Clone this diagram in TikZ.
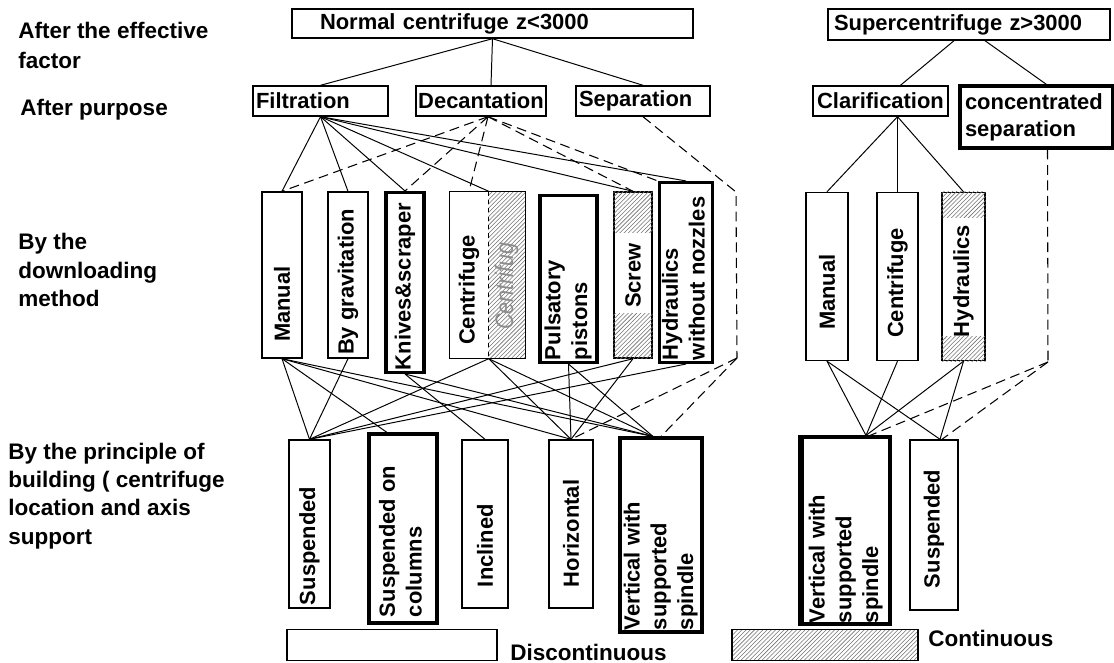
\documentclass[tikz,border=0pt]{standalone}
\usepackage{fontspec}
\setmainfont{Liberation Sans}
\usetikzlibrary{patterns,positioning}
\newlength\pxl
\setlength\pxl{0.025cm}
% upright text in a tall box: strip length, then text (starts at lower end)
\newcommand{\vlabel}[2]{\rotatebox{90}{\makebox[#1\pxl][l]{#2}}}
\newcommand{\vlines}[2]{\rotatebox{90}{\makebox[#1\pxl][l]{\begin{tabular}{@{}l@{}}#2\end{tabular}}}}
\tikzset{
  box/.style={draw, line width=1pt, inner sep=0pt, font=\fontsize{15.6}{19}\selectfont\bfseries},
  thickbox/.style={box, line width=2.2pt},
  sz/.style 2 args={minimum width=#1\pxl, minimum height=#2\pxl},
  hatch/.style={pattern=north east lines, pattern color=black!55},
  link/.style={line width=0.7pt},
  dlink/.style={line width=0.75pt, dash pattern=on 7pt off 4pt},
  side/.style={anchor=west, align=left, inner sep=0pt, font=\fontsize{16}{20}\selectfont\bfseries},
}
\begin{document}
\begin{tikzpicture}[x=0.025cm, y=-0.025cm]
  \useasboundingbox (0,0) rectangle (1114,663);

  % row titles
  \node[side, font=\fontsize{16}{21.3}\selectfont\bfseries] (tfactor) at (18,45) {After the effective\\factor};
  \node[side] (tpurpose) at (20,110) {After purpose};
  \node[side] (tdownload) at (18,270) {By the\\downloading\\method};
  \node[side] (tbuild) at (8,496) {By the principle of\\building ( centrifuge\\location and axis\\support};

  % effective factor
  \node[box, sz={401}{29}, inner xsep=28\pxl, text width=345\pxl, align=left] (norm) at (492.5,23.5) {Normal centrifuge z<3000};
  \node[box, sz={282}{31}, inner xsep=6\pxl, text width=270\pxl, align=left] (sup) at (969,24.5) {Supercentrifuge z>3000};

  % purpose
  \node[box, sz={135}{30}, inner xsep=3\pxl, text width=129\pxl, align=left] (filt) at (320.5,101) {Filtration};
  \node[box, sz={130}{30}] (dec) at (481,101) {Decantation};
  \node[box, sz={134}{30}, inner xsep=3\pxl, text width=128\pxl, align=left] (sep) at (643,101) {Separation};
  \node[box, sz={135}{30}] (cla) at (880.5,101) {Clarification};
  \node[thickbox, sz={153}{62}, inner xsep=5\pxl, text width=143\pxl, align=left] (con) at (1036.5,117) {concentrated\\separation};

  % downloading method
  \node[box, sz={40}{166}] (man1) at (282,275) {\vlabel{134}{Manual}};
  \node[box, sz={40}{166}] (grav) at (348,275) {\vlabel{160}{By gravitation}};
  \node[thickbox, sz={38}{180}] (kni) at (405,282.5) {\vlabel{175}{Knives\&scraper}};
  \node[box, draw=none, sz={38}{166}] (cenA) at (469,275) {\vlabel{140}{Centrifuge}};
  \node[box, draw=none, hatch, sz={37}{166}] (cenB) at (506.5,275) {\vlabel{110}{\color{black!45}\mdseries\itshape\fontsize{18}{19}\selectfont\scalebox{0.85}[1]{Centrifug}}};
  \draw[line width=1pt] (cenA.north west) rectangle (cenB.south east);
  \draw[line width=1pt, dashed] (cenA.north east) -- (cenA.south east);
  \node[thickbox, sz={57}{167}] (pul) at (568.5,279) {\vlines{162}{Pulsatory\\pistons}};
  \node[box, sz={38}{166}] (scr) at (633,275) {\vlabel{66}{Screw}};
  \fill[hatch] (scr.north west) rectangle ([yshift=-41\pxl]scr.north east);
  \fill[hatch] ([yshift=45\pxl]scr.south west) rectangle (scr.south east);
  \node[thickbox, sz={48}{180}] (hyd) at (686,272.5) {\vlines{175}{Hydraulics\\without nozzles}};
  \coordinate (sepbend1) at (736,192);
  \coordinate (sepbend2) at (737,358);

  \node[box, sz={42}{168}] (man2) at (827,276.5) {\vlabel{107}{Manual}};
  \node[box, sz={41}{168}] (cen2) at (897.5,276.5) {\vlabel{123}{Centrifuge}};
  \node[box, sz={43}{168}] (hyd2) at (963.5,276.5) {\vlabel{121}{Hydraulics}};
  \fill[hatch] (hyd2.north west) rectangle ([yshift=-26\pxl]hyd2.north east);
  \fill[hatch] ([yshift=25\pxl]hyd2.south west) rectangle (hyd2.south east);
  \coordinate (conbend) at (1048,362);

  % building principle
  \node[box, sz={41}{168}] (sus1) at (309.5,524) {\vlabel{162}{Suspended}};
  \node[thickbox, sz={68}{189}] (col) at (403,528.5) {\vlines{177}{Suspended on\\columns}};
  \node[box, sz={46}{168}] (inc) at (485,524) {\vlabel{126}{Inclined}};
  \node[box, sz={44}{168}] (hor) at (571,524) {\vlabel{126}{Horizontal}};
  \node[thickbox, sz={82}{194}] (ver1) at (661,535) {\vlines{190}{Vertical with\\supported\\spindle}};
  \node[thickbox, sz={88}{187}] (ver2) at (846,530.5) {\vlines{185}{Vertical with\\supported\\spindle}};
  \draw[line width=3.5pt] (ver2.north west) -- (ver2.south west);
  \node[box, sz={48}{170}] (sus2) at (934,525) {\vlabel{126}{Suspended}};

  % legend
  \node[box, sz={210}{31}] (disc) at (392,645) {};
  \node[side] (disclbl) at (510,652) {Discontinuous};
  \node[box, hatch, sz={186}{31}] (cont) at (825,645) {};
  \node[side] (contlbl) at (928,638) {Continuous};

  % effective factor -> purpose
  \draw[link] (norm.south) -- (filt.north);
  \draw[link] (norm.south) -- ([xshift=10\pxl]dec.north);
  \draw[link] (norm.south) -- (sep.north);
  \draw[link] ([xshift=-15\pxl]sup.south) -- ([xshift=20\pxl]cla.north);
  \draw[link] ([xshift=16\pxl]sup.south) -- ([xshift=10\pxl]con.north);

  % purpose -> downloading method
  \draw[link] (filt.south) -- (man1.north);
  \draw[link] (filt.south) -- (grav.north);
  \draw[link] (filt.south) -- (kni.north);
  \draw[link] (filt.south) -- (cenA.north east);
  \draw[link] (filt.south) -- (scr.north);
  \draw[link] (filt.south) -- (hyd.north);
  \draw[dlink] ([xshift=7\pxl]dec.south) -- (man1.north);
  \draw[dlink] ([xshift=7\pxl]dec.south) -- (kni.north);
  \draw[dlink] ([xshift=7\pxl]dec.south) -- (cenA.north);
  \draw[dlink] ([xshift=7\pxl]dec.south) -- (scr.north);
  \draw[dlink] ([xshift=7\pxl]dec.south) -- (hyd.north west);
  \draw[dlink] (sep.south) -- (sepbend1) -- (sepbend2);
  \draw[link] ([xshift=17\pxl]cla.south) -- (man2.north);
  \draw[link] ([xshift=17\pxl]cla.south) -- (cen2.north);
  \draw[link] ([xshift=17\pxl]cla.south) -- (hyd2.north);
  \draw[dlink] ([xshift=11\pxl]con.south) -- (conbend);

  % downloading method -> building principle
  \draw[link] (man1.south) -- (sus1.north);
  \draw[link] (man1.south) -- ([xshift=-16\pxl]col.north);
  \draw[link] (man1.south) -- (hor.north);
  \draw[link] (man1.south) -- ([xshift=-8\pxl]ver1.north);
  \draw[link] (grav.south) -- (sus1.north);
  \draw[link] (kni.south) -- (inc.north);
  \draw[link] (kni.south) -- ([xshift=-8\pxl]ver1.north);
  \draw[link] (cenA.south east) -- (sus1.north);
  \draw[link] (cenA.south east) -- (hor.north);
  \draw[link] (cenA.south east) -- ([xshift=-8\pxl]ver1.north);
  \draw[link] (pul.south) -- (hor.north);
  \draw[link] (pul.south) -- ([xshift=-8\pxl]ver1.north);
  \draw[link] (scr.south) -- (sus1.north);
  \draw[link] (scr.south) -- (hor.north);
  \draw[link] (hyd.south) -- (sus1.north);
  \draw[dlink] (sepbend2) -- (hor.north);
  \draw[dlink] (sepbend2) -- (ver1.north);
  \draw[link] (man2.south) -- ([xshift=20\pxl]ver2.north);
  \draw[link] (man2.south) -- ([xshift=6\pxl]sus2.north);
  \draw[link] (cen2.south) -- ([xshift=20\pxl]ver2.north);
  \draw[link] (hyd2.south) -- ([xshift=20\pxl]ver2.north);
  \draw[link] (hyd2.south) -- ([xshift=6\pxl]sus2.north);
  \draw[dlink] (conbend) -- ([xshift=24\pxl]ver2.north);
  \draw[dlink] (conbend) -- ([xshift=8\pxl]sus2.north);
\end{tikzpicture}
\end{document}
